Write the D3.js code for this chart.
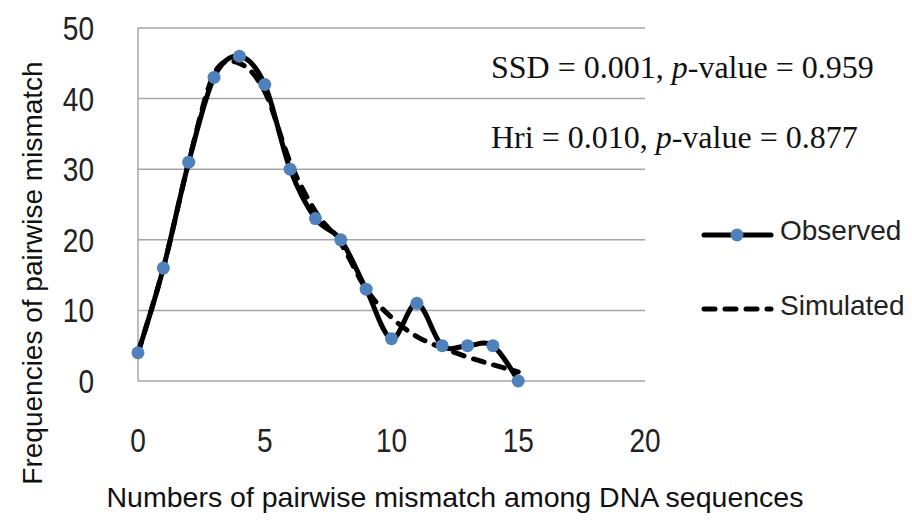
<!DOCTYPE html>
<html>
<head>
<meta charset="utf-8">
<script src="https://cdn.jsdelivr.net/npm/d3@7"></script>
<style>
    body { margin: 0; background: #fff; }
    svg { display: block; }
</style>
</head>
<body>
<svg id="chart" width="912" height="520"></svg>
<script>
/***************************************************************
    Data
****************************************************************/
const mismatches = [0, 1, 2, 3, 4, 5, 6, 7, 8, 9, 10, 11, 12, 13, 14, 15];
const observed = [4, 16, 31, 43, 46, 42, 30, 23, 20, 13, 6, 11, 5, 5, 5, 0];
const simulated = [4, 16, 31, 43.5, 45, 41, 31, 24, 19.5, 13, 9, 6.3, 4.7, 3.4, 2.3, 1.3];
const xTicks = [0, 5, 10, 15, 20];
const yTicks = [0, 10, 20, 30, 40, 50];
const seriesNames = ["Observed", "Simulated"];
const statLines = [
    { label: "SSD = 0.001, ", value: "0.959" },
    { label: "Hri = 0.010, ", value: "0.877" }
];

/***************************************************************
    Layout
****************************************************************/
const plot = { left: 138, right: 645, top: 28, bottom: 381 };
const gridColor = "#a6a6a6";
const markerColor = "#4f81bd";
const sansFont = "'Liberation Sans', Arial, sans-serif";

const svg = d3.select("#chart");

const x = d3.scaleLinear().domain([0, 20]).range([plot.left, plot.right]);
const y = d3.scaleLinear().domain([0, 50]).range([plot.bottom, plot.top]);

// horizontal gridlines
svg.append("g").selectAll("line").data(yTicks).enter().append("line")
    .attr("x1", plot.left).attr("x2", plot.right)
    .attr("y1", d => y(d)).attr("y2", d => y(d))
    .attr("stroke", gridColor).attr("stroke-width", 1.5);

// left axis line
svg.append("line")
    .attr("x1", plot.left).attr("x2", plot.left)
    .attr("y1", plot.top).attr("y2", plot.bottom)
    .attr("stroke", gridColor).attr("stroke-width", 1.5);

// tick labels (the original font is tall and narrow, so squeeze a bit)
svg.append("g").selectAll("text").data(yTicks).enter().append("text")
    .attr("transform", d => `translate(94,${y(d) + 12}) scale(0.85,1)`)
    .attr("text-anchor", "end")
    .attr("font-family", sansFont).attr("font-size", 33).attr("fill", "#222")
    .text(d => d);

svg.append("g").selectAll("text").data(xTicks).enter().append("text")
    .attr("transform", d => `translate(${x(d)},452) scale(0.85,1)`)
    .attr("text-anchor", "middle")
    .attr("font-family", sansFont).attr("font-size", 33).attr("fill", "#222")
    .text(d => d);

// axis titles
svg.append("text")
    .attr("x", 455).attr("y", 507)
    .attr("text-anchor", "middle")
    .attr("font-family", sansFont).attr("font-size", 28.5).attr("fill", "#111")
    .text("Numbers of pairwise mismatch among DNA sequences");

svg.append("text")
    .attr("transform", "translate(42,273) rotate(-90)")
    .attr("text-anchor", "middle")
    .attr("font-family", sansFont).attr("font-size", 28).attr("fill", "#111")
    .text("Frequencies of pairwise mismatch");

/***************************************************************
    Series
****************************************************************/
const smooth = d3.line()
    .x((d, i) => x(mismatches[i]))
    .y(d => y(d))
    .curve(d3.curveCatmullRom.alpha(0));

svg.append("path").datum(simulated)
    .attr("d", smooth)
    .attr("fill", "none").attr("stroke", "#000").attr("stroke-width", 5)
    .attr("stroke-dasharray", "11,10").attr("stroke-linecap", "round");

svg.append("path").datum(observed)
    .attr("d", smooth)
    .attr("fill", "none").attr("stroke", "#000").attr("stroke-width", 5)
    .attr("stroke-linejoin", "round");

svg.append("g").selectAll("circle").data(observed).enter().append("circle")
    .attr("cx", (d, i) => x(mismatches[i]))
    .attr("cy", d => y(d))
    .attr("r", 6.5)
    .attr("fill", markerColor);

/***************************************************************
    Legend + stats text
****************************************************************/
const legend = svg.append("g");
const legendRows = [
    { name: seriesNames[0], lineY: 235, textY: 240, dashed: false },
    { name: seriesNames[1], lineY: 309, textY: 315, dashed: true }
];
legendRows.forEach(row => {
    legend.append("line")
        .attr("x1", 704).attr("x2", 771)
        .attr("y1", row.lineY).attr("y2", row.lineY)
        .attr("stroke", "#000").attr("stroke-width", 5)
        .attr("stroke-linecap", "round")
        .attr("stroke-dasharray", row.dashed ? "11,10" : null);
    if (!row.dashed) {
        legend.append("circle")
            .attr("cx", 737).attr("cy", row.lineY).attr("r", 6.5)
            .attr("fill", markerColor);
    }
    legend.append("text")
        .attr("x", 780).attr("y", row.textY)
        .attr("font-family", sansFont).attr("font-size", 28).attr("fill", "#222")
        .text(row.name);
});

statLines.forEach((s, i) => {
    const t = svg.append("text")
        .attr("x", 491).attr("y", 78 + i * 70)
        .attr("font-family", "'Liberation Serif', 'Times New Roman', serif")
        .attr("font-size", 32).attr("fill", "#111");
    t.append("tspan").text(s.label);
    t.append("tspan").attr("font-style", "italic").text("p");
    t.append("tspan").text("-value = " + s.value);
});
</script>
</body>
</html>
